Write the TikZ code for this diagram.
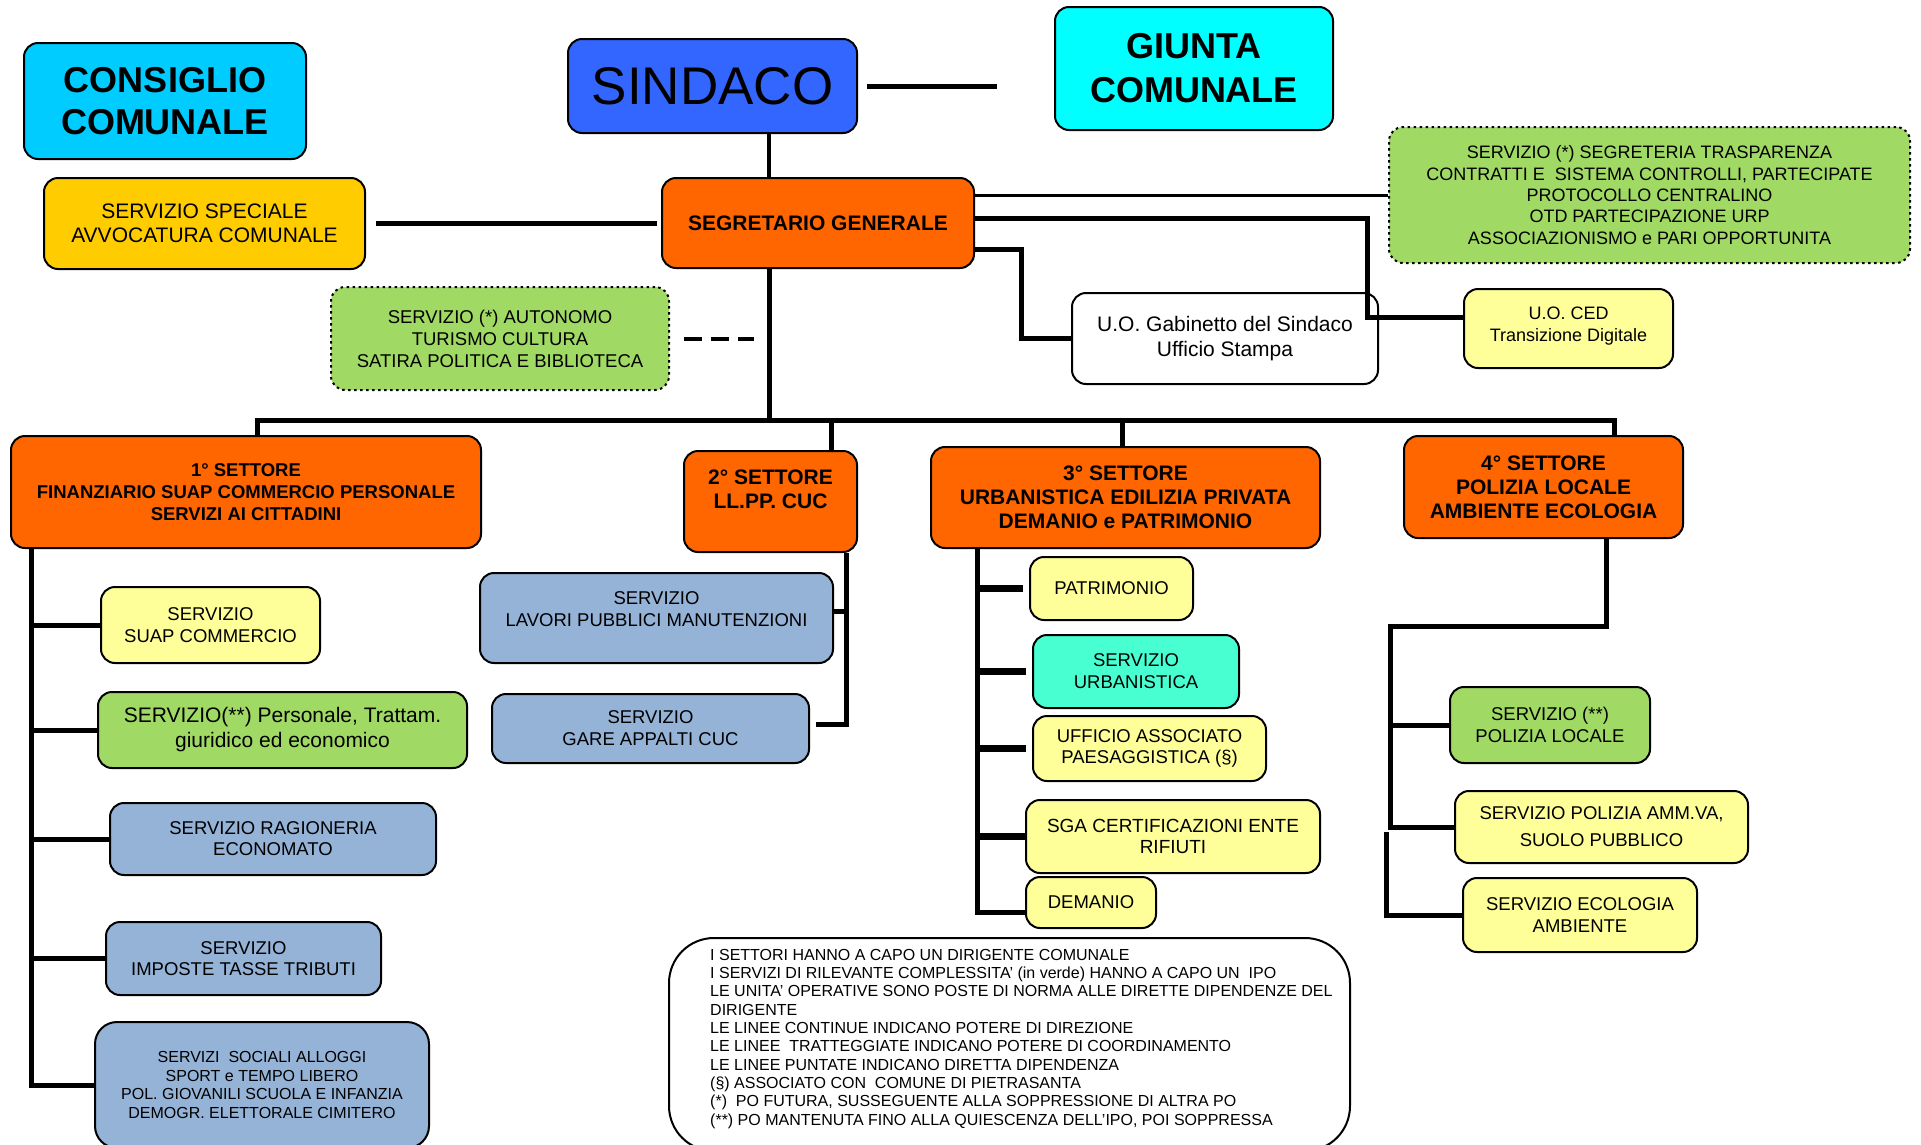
\documentclass[tikz,border=0pt]{standalone}
\usepackage{fontspec}
\setmainfont{Liberation Sans}
\usepackage{tikz}

\definecolor{ciano}{HTML}{00CCFF}
\definecolor{blusind}{HTML}{3366FF}
\definecolor{giuntac}{HTML}{00FFFF}
\definecolor{arancio}{HTML}{FF6600}
\definecolor{avvoc}{HTML}{FFCC00}
\definecolor{verdeipo}{RGB}{160,218,100}
\definecolor{giallo}{HTML}{FFFF99}
\definecolor{azzurro}{HTML}{95B3D7}
\definecolor{acqua}{RGB}{72,255,210}

\newcommand{\fsz}[2]{\fontsize{#1pt}{#2pt}\selectfont}

\tikzset{
  box/.style={draw=black, line width=2pt, rounded corners=14pt, inner sep=0pt, align=center},
  dims/.style 2 args={minimum width=#1pt, minimum height=#2pt},
  organo/.style={box, font=\bfseries\fsz{36}{42}},
  settore/.style={box, fill=arancio, font=\bfseries\fsz{21}{24}},
  servizio/.style={box, font=\fsz{18.5}{22}},
  ipo/.style={servizio, fill=verdeipo},
  ipodot/.style={ipo, dash pattern=on 2.5pt off 3.5pt},
  link/.style={line width=5pt},
  midlink/.style={line width=4pt},
  thinlink/.style={line width=3pt},
  stub/.style={line width=6.5pt}
}

\begin{document}
\begin{tikzpicture}[x=1pt,y=-1pt]
  \useasboundingbox (0,0) rectangle (1921,1144);
  \fill[white] (0,0) rectangle (1921,1144);
  \clip (0,0) rectangle (1921,1144);

  % vertici
  \node[organo, fill=ciano, dims={282}{116}] (cons) at (165,101) {CONSIGLIO\\COMUNALE};
  \node[box, fill=blusind, dims={289}{94}, font=\fsz{53}{60}] (sind) at (712.5,86) {SINDACO};
  \node[organo, fill=giuntac, dims={278}{123}, font=\bfseries\fsz{36}{44}] (giun) at (1194,68.5) {GIUNTA\\COMUNALE};
  \node[settore, dims={312}{90}] (segr) at (818,223) {SEGRETARIO GENERALE};
  \node[box, fill=avvoc, dims={321}{91}, font=\fsz{21}{24}] (avvo) at (204.5,223.5) {SERVIZIO SPECIALE\\AVVOCATURA COMUNALE};
  \node[ipodot, dims={338}{103}] (auto) at (500,338.5) {SERVIZIO (*) AUTONOMO\\TURISMO CULTURA\\SATIRA POLITICA E BIBLIOTECA};
  \node[ipodot, dims={521}{136}, font=\fsz{18}{21.3}] (segre) at (1649.5,195) {SERVIZIO (*) SEGRETERIA TRASPARENZA\\CONTRATTI E\ \ SISTEMA CONTROLLI, PARTECIPATE\\PROTOCOLLO CENTRALINO\\OTD PARTECIPAZIONE URP\\ASSOCIAZIONISMO e PARI OPPORTUNITA};
  \node[box, fill=white, dims={306}{91}, font=\fsz{21}{25}] (gab) at (1225,338.5) {U.O. Gabinetto del Sindaco\\Ufficio Stampa};
  \node[servizio, fill=giallo, dims={209}{79}, font=\fsz{18}{22}, text depth=8pt] (ced) at (1568.5,328.5) {U.O. CED\\Transizione Digitale};

  % settori
  \node[settore, dims={470}{112}, font=\bfseries\fsz{18.5}{22}] (set1) at (246,492) {1° SETTORE\\FINANZIARIO SUAP COMMERCIO PERSONALE\\SERVIZI AI CITTADINI};
  \node[settore, dims={173}{101}, text depth=24pt] (set2) at (770.5,501.5) {2° SETTORE\\LL.PP. CUC};
  \node[settore, dims={389}{101}] (set3) at (1125.5,497.5) {3° SETTORE\\URBANISTICA EDILIZIA PRIVATA\\DEMANIO e PATRIMONIO};
  \node[settore, dims={279}{102}] (set4) at (1543.5,487) {4° SETTORE\\POLIZIA LOCALE\\AMBIENTE ECOLOGIA};

  % servizi 1
  \node[servizio, fill=giallo, dims={219}{76}] (suap) at (210.5,625) {SERVIZIO\\SUAP COMMERCIO};
  \node[ipo, dims={369}{76}, font=\fsz{21}{25}] (pers) at (282.5,730) {SERVIZIO(**) Personale, Trattam.\\giuridico ed economico};
  \node[servizio, fill=azzurro, dims={326}{72}, font=\fsz{18.5}{21}] (ragi) at (273,839) {SERVIZIO RAGIONERIA\\ECONOMATO};
  \node[servizio, fill=azzurro, dims={275}{73}, font=\fsz{18.5}{21}] (impo) at (243.5,958.5) {SERVIZIO\\IMPOSTE TASSE TRIBUTI};
  \node[servizio, fill=azzurro, dims={334}{126}, font=\fsz{16}{18.5}, rounded corners=22pt] (soci) at (262,1085) {SERVIZI\ \ SOCIALI ALLOGGI\\SPORT e TEMPO LIBERO\\POL. GIOVANILI SCUOLA E INFANZIA\\DEMOGR. ELETTORALE CIMITERO};

  % servizi 2
  \node[servizio, fill=azzurro, dims={353}{90}, text depth=17pt] (lavo) at (656.5,618) {SERVIZIO\\LAVORI PUBBLICI MANUTENZIONI};
  \node[servizio, fill=azzurro, dims={317}{69}] (gare) at (650.5,728.5) {SERVIZIO\\GARE APPALTI CUC};

  % servizi 3
  \node[servizio, fill=giallo, dims={163}{63}] (patr) at (1111.5,588.5) {PATRIMONIO};
  \node[servizio, fill=acqua, dims={206}{73}] (urba) at (1136,671.5) {SERVIZIO\\URBANISTICA};
  \node[servizio, fill=giallo, dims={233}{65}, font=\fsz{18.5}{20.5}] (paes) at (1149.5,748.5) {UFFICIO ASSOCIATO\\PAESAGGISTICA (§)};
  \node[servizio, fill=giallo, dims={294}{73}, font=\fsz{19}{21}] (sga) at (1173,836.5) {SGA CERTIFICAZIONI ENTE\\RIFIUTI};
  \node[servizio, fill=giallo, dims={130}{51}] (dema) at (1091,902.5) {DEMANIO};

  % servizi 4
  \node[ipo, dims={200}{76}] (poli) at (1550,725) {SERVIZIO (**)\\POLIZIA LOCALE};
  \node[servizio, fill=giallo, dims={293}{72}, font=\fsz{18.5}{27}] (amm) at (1601.5,827) {SERVIZIO POLIZIA AMM.VA,\\SUOLO PUBBLICO};
  \node[servizio, fill=giallo, dims={234}{74}] (ecol) at (1580,915) {SERVIZIO ECOLOGIA\\AMBIENTE};

  % legenda
  \node[box, fill=white, rounded corners=45pt, anchor=north west, dims={681}{213}] (leg) at (668,937) {};
  \node[anchor=north west, inner sep=0pt, align=left, font=\fsz{16}{18.3}] (legtxt) at ([xshift=42pt,yshift=-12pt]leg.north west)
    {I SETTORI HANNO A CAPO UN DIRIGENTE COMUNALE\\
     I SERVIZI DI RILEVANTE COMPLESSITA’ (in verde) HANNO A CAPO UN\ \ IPO\\
     LE UNITA’ OPERATIVE SONO POSTE DI NORMA ALLE DIRETTE DIPENDENZE DEL\\
     DIRIGENTE\\
     LE LINEE CONTINUE INDICANO POTERE DI DIREZIONE\\
     LE LINEE\ \ TRATTEGGIATE INDICANO POTERE DI COORDINAMENTO\\
     LE LINEE PUNTATE INDICANO DIRETTA DIPENDENZA\\
     (§) ASSOCIATO CON\ \ COMUNE DI PIETRASANTA\\
     (*)\ \ PO FUTURA, SUSSEGUENTE ALLA SOPPRESSIONE DI ALTRA PO\\
     (**) PO MANTENUTA FINO ALLA QUIESCENZA DELL’IPO, POI SOPPRESSA};

  % collegamenti in alto
  \coordinate (tk) at (769,0);
  \coordinate (bus) at (0,420);
  \draw[link] ([xshift=9pt]sind.east) -- ([xshift=-57pt]giun.west |- sind.east);
  \draw[midlink] (sind.south -| tk) -- (segr.north -| tk);
  \draw[link] ([xshift=10pt]avvo.east) -- ([xshift=-4pt]segr.west |- avvo.east);
  \draw[midlink, dash pattern=on 18pt off 9pt] ([xshift=14pt]auto.east) -- ([xshift=-15pt]auto.east -| tk);
  \draw[thinlink] (segr.east |- segre.west) -- (segre.west);
  \coordinate (cedx) at (1367,0);
  \draw[link] ([yshift=5pt]segr.east) -| ([yshift=11.5pt]ced.west -| cedx) -- ([yshift=11.5pt]ced.west);
  \coordinate (gabx) at (1021,0);
  \draw[link] ([yshift=-26pt]segr.east) -| (gab.west -| gabx) -- (gab.west);

  % tronco e settori
  \draw[link] (segr.south -| tk) -- (bus -| tk);
  \draw[link] ([xshift=11pt]set1.north) |- ([xshift=70.5pt]set4.north |- bus) -- ([xshift=70.5pt]set4.north);
  \draw[link] ([xshift=60.5pt]set2.north) -- ([xshift=60.5pt]set2.north |- bus);
  \draw[link] ([xshift=-3.5pt]set3.north) -- ([xshift=-3.5pt]set3.north |- bus);

  % 1 settore
  \coordinate (t1) at (31,0);
  \draw[link] (set1.south -| t1) |- (soci.west);
  \foreach \s in {suap,pers,ragi,impo}
    \draw[link] (\s.west -| t1) -- (\s.west);

  % 2 settore
  \coordinate (t2) at (846,0);
  \draw[link] (set2.south -| t2) |- ([xshift=6pt,yshift=4.5pt]gare.east);
  \draw[link] ([yshift=7pt]lavo.east) -- ([yshift=7pt]lavo.east -| t2);

  % 3 settore
  \coordinate (t3) at (977,0);
  \draw[link] (set3.south -| t3) |- ([yshift=-10pt]dema.west);
  \foreach \s in {patr,urba,paes}
    \draw[stub] (\s.west -| t3) -- ([xshift=-6pt]\s.west);
  \draw[stub] (sga.west -| t3) -- (sga.west);

  % 4 settore
  \coordinate (t4) at (1390,0);
  \coordinate (t4b) at (1386,0);
  \coordinate (b4) at (0,626);
  \draw[link] ([xshift=62.5pt]set4.south) |- (b4 -| t4) |- (amm.west);
  \draw[link] (poli.west -| t4) -- (poli.west);
  \draw[link] ([yshift=-5pt]amm.west -| t4b) |- (ecol.west);
\end{tikzpicture}
\end{document}
